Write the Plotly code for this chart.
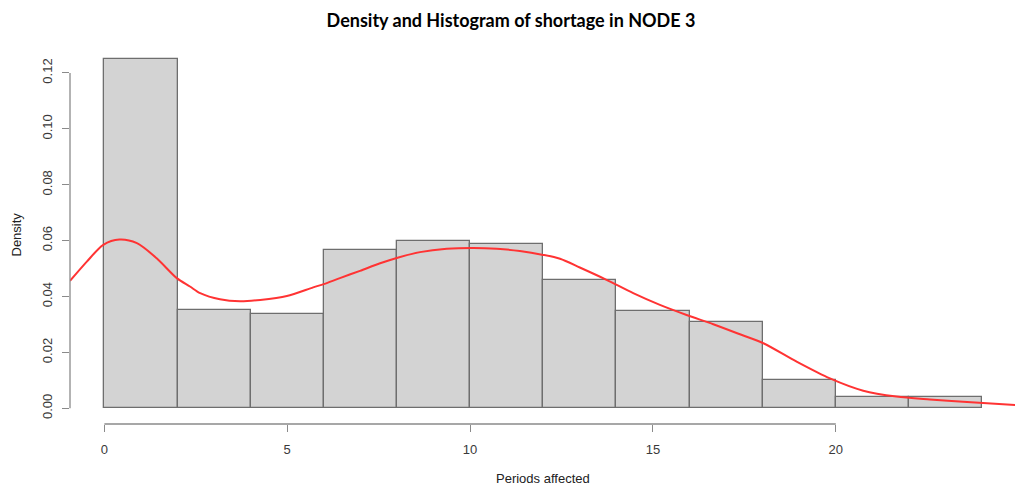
import plotly.graph_objects as go

# Histogram (density scale), bins of width 2
bin_left = [0, 2, 4, 6, 8, 10, 12, 14, 16, 18, 20, 22]
bin_width = 2
density_bars = [0.125, 0.0352, 0.0336, 0.0566, 0.0600, 0.0588, 0.0460, 0.0350, 0.0308, 0.0100, 0.0039, 0.0039]

# Kernel density curve
kde_x = [-0.94, -0.48, -0.03, 0.41, 0.89, 1.43, 1.98, 2.34, 2.62, 3.16, 3.71, 4.26, 4.99, 5.71,
         6.08, 6.44, 6.99, 7.54, 8.04, 8.63, 9.36, 10.09, 10.73, 11.36, 12.0, 12.46, 13.0, 13.73,
         14.46, 15.19, 15.92, 16.65, 17.38, 18.02, 18.93, 19.84, 20.75, 21.66, 22.57, 23.48, 24.91]
kde_y = [0.0456, 0.0525, 0.0585, 0.0604, 0.0591, 0.0537, 0.0466, 0.0436, 0.0412, 0.0390, 0.0383,
         0.0388, 0.0402, 0.0433, 0.0448, 0.0466, 0.0492, 0.0519, 0.0540, 0.0559, 0.0571, 0.0574,
         0.0571, 0.0563, 0.0549, 0.0535, 0.0504, 0.0460, 0.0412, 0.0370, 0.0334, 0.0301, 0.0265,
         0.0233, 0.0167, 0.0107, 0.0063, 0.0042, 0.0032, 0.0024, 0.0012]

x_ticks = [0, 5, 10, 15, 20]
y_ticks = [0.00, 0.02, 0.04, 0.06, 0.08, 0.10, 0.12]

title_text = "Density and Histogram of shortage in NODE 3"
x_label = "Periods affected"
y_label = "Density"

W, H = 1015, 488
ML, MR, MT, MB = 70, 0, 45, 64

bar_centers = [b + bin_width / 2 for b in bin_left]
axis_col = "#8a8a8a"
tick_font = dict(family="Liberation Sans, Arial, sans-serif", size=13, color="#3a3a3a")
lab_font = dict(family="Liberation Sans, Arial, sans-serif", size=13, color="#222222")

fig = go.Figure()
fig.add_trace(go.Bar(
    x=bar_centers, y=density_bars, width=[bin_width] * len(bin_left),
    marker=dict(color="#d3d3d3", line=dict(color="#6e6e6e", width=1.3)),
    hoverinfo="x+y", showlegend=False,
))
fig.add_trace(go.Scatter(
    x=kde_x, y=kde_y, mode="lines",
    line=dict(color="#ff3333", width=2, shape="spline", smoothing=0.8),
    showlegend=False,
))

# R-style detached axis lines spanning first..last tick
fig.add_shape(type="line", xref="paper", yref="y", x0=0, x1=0,
              y0=min(y_ticks), y1=max(y_ticks), line=dict(color=axis_col, width=1.3))
fig.add_shape(type="line", xref="x", yref="paper", x0=min(x_ticks), x1=max(x_ticks),
              y0=0, y1=0, line=dict(color=axis_col, width=1.3))

fig.update_layout(
    width=W, height=H,
    margin=dict(l=ML, r=MR, t=MT, b=MB),
    plot_bgcolor="white", paper_bgcolor="white",
    title=dict(text="<b>" + title_text + "</b>", x=511 / W, xanchor="center",
               y=1 - 21 / H, yanchor="middle",
               font=dict(family="Lato, Noto Sans, sans-serif", size=18, color="black")),
    xaxis=dict(range=[-0.94, 24.9], showgrid=False, zeroline=False, showline=False,
               tickmode="array", tickvals=x_ticks, ticktext=[str(v) for v in x_ticks],
               ticks="outside", ticklen=7, tickcolor=axis_col, tickwidth=1.3,
               tickfont=tick_font, ticklabelstandoff=6),
    yaxis=dict(range=[-0.0056, 0.13], showgrid=False, zeroline=False, showline=False,
               tickmode="array", tickvals=y_ticks, ticktext=[f"{v:.2f}" for v in y_ticks],
               ticks="outside", ticklen=7, tickcolor=axis_col, tickwidth=1.3,
               tickfont=tick_font, tickangle=-90, ticklabelstandoff=5),
    bargap=0,
    annotations=[
        dict(text=x_label, xref="paper", yref="paper", x=0.5, y=-(478 - 424) / (H - MT - MB),
             xanchor="center", yanchor="middle", showarrow=False, font=lab_font),
        dict(text=y_label, xref="paper", yref="paper", x=-(70 - 16) / (W - ML - MR), y=0.5,
             xanchor="center", yanchor="middle", textangle=-90, showarrow=False, font=lab_font),
    ],
)

fig.write_html("out.html")
